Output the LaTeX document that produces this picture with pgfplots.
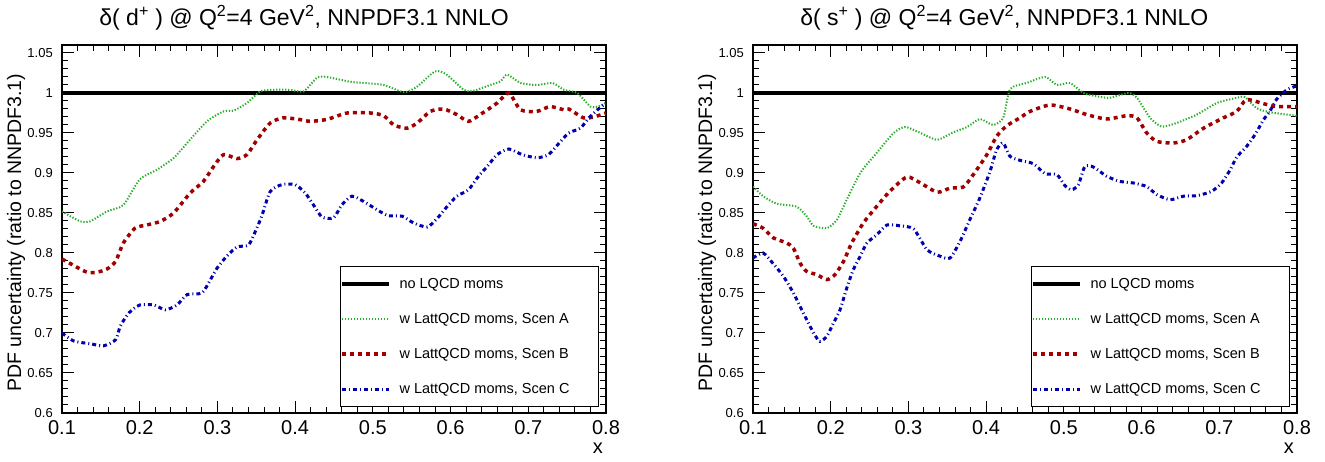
\documentclass[border=0pt]{standalone}
\usepackage{pgfplots}
\pgfplotsset{compat=1.18}
\usepackage{fontspec}
\setmainfont{Liberation Sans}
\definecolor{cgreen}{RGB}{40,175,40}
\definecolor{cred}{RGB}{160,0,0}
\definecolor{cblue}{RGB}{0,0,175}
\pgfplotsset{
  rootstyle/.style={
    width=544pt, height=368pt, scale only axis,
    xmin=0.1, xmax=0.8, ymin=0.6, ymax=1.06,
    xtick={0.1,0.2,0.3,0.4,0.5,0.6,0.7,0.8},
    ytick={0.6,0.65,0.7,0.75,0.8,0.85,0.9,0.95,1,1.05},
    minor x tick num=4, minor y tick num=4,
    tick align=inside,
    major tick length=12pt, minor tick length=6pt,
    axis line style={line width=1.3pt},
    every tick/.style={line width=1pt, black},
    /pgf/number format/assume math mode=true,
    /pgf/number format/fixed,
    /pgf/number format/precision=2,
    xticklabel style={font=\fontsize{20}{20}\selectfont, inner sep=0pt, anchor=north, yshift=-7pt},
    yticklabel style={font=\fontsize{13}{13}\selectfont, inner sep=0pt, anchor=east, xshift=-9pt},
    title style={font=\fontsize{23}{23}\selectfont, anchor=base, inner sep=0pt},
    ylabel={PDF uncertainty (ratio to NNPDF3.1)},
    ylabel style={font=\fontsize{19.5}{19.5}\selectfont, at={(axis description cs:-0.0846,0.49)}, anchor=center, inner sep=0pt},
    xlabel={x},
    xlabel style={font=\fontsize{20}{20}\selectfont, at={(axis description cs:0.985,-0.095)}, anchor=center, inner sep=0pt},
    legend style={at={(0.987,0.0163)}, anchor=south east, draw=black, line width=0.8pt,
      inner xsep=0pt, inner ysep=0pt, row sep=0pt, column sep=0pt,
      font=\fontsize{14.5}{14.5}\selectfont,
      nodes={minimum height=35pt, inner ysep=0pt},
      cells={anchor=west}},
    legend image code/.code={\draw[#1] (16pt,0pt) -- (63pt,0pt);},
  },
  lref/.style={black, line width=3.5pt},
  lA/.style={cgreen, line width=2pt, dash pattern=on 1.3pt off 1.7pt},
  lB/.style={cred, line width=3.5pt, dash pattern=on 4pt off 4pt},
  lC/.style={cblue, line width=3pt, dash pattern=on 4pt off 3pt on 1pt off 3pt},
}
\newcommand{\leg}[1]{\hspace{7pt}\makebox[197pt][l]{#1}}
\begin{document}
\begin{tikzpicture}
\useasboundingbox (0,0) rectangle (1325pt,462pt);
\begin{axis}[rootstyle, at={(62pt,49pt)}, anchor=south west,
  title={δ( d\textsuperscript{+} ) @ Q\textsuperscript{2}=4 GeV\textsuperscript{2}, NNPDF3.1 NNLO},
  title style={at={(axis description cs:0.445,1)}, yshift=13.3pt}]
\addplot[lref] coordinates {(0.1,1) (0.8,1)};
\addlegendentry{\leg{no LQCD moms}}
\addplot[lA, smooth, tension=0.4] coordinates {
(0.100,0.852) (0.1235,0.8395) (0.136,0.8395) (0.158,0.852) (0.179,0.860) (0.200,0.892) (0.222,0.904) (0.244,0.919) (0.265,0.942) (0.287,0.965) (0.308,0.977) (0.321,0.978) (0.338,0.9875) (0.355,1.002) (0.372,1.004) (0.393,1.004) (0.411,1.002) (0.428,1.019) (0.441,1.020) (0.471,1.014) (0.488,1.0125) (0.514,1.010) (0.540,1.001) (0.557,1.008) (0.580,1.027) (0.595,1.023) (0.617,1.004) (0.630,1.003) (0.651,1.010) (0.664,1.0145) (0.673,1.023) (0.690,1.0125) (0.711,1.010) (0.731,1.0125) (0.746,1.004) (0.763,1.000) (0.780,0.983) (0.789,0.983) (0.800,0.9875)};
\addlegendentry{\leg{w LattQCD moms, Scen A}}
\addplot[lB, smooth, tension=0.4] coordinates {
(0.100,0.7925) (0.111,0.7866) (0.132,0.776) (0.145,0.776) (0.158,0.780) (0.169,0.7895) (0.179,0.8125) (0.194,0.831) (0.209,0.835) (0.2265,0.8395) (0.2436,0.850) (0.265,0.875) (0.282,0.8895) (0.295,0.908) (0.308,0.923) (0.325,0.918) (0.338,0.923) (0.351,0.9415) (0.368,0.9625) (0.385,0.969) (0.4067,0.9667) (0.4196,0.9646) (0.441,0.967) (0.467,0.975) (0.497,0.975) (0.514,0.9716) (0.527,0.960) (0.544,0.956) (0.557,0.9625) (0.574,0.977) (0.591,0.980) (0.608,0.973) (0.623,0.9645) (0.638,0.973) (0.660,0.9875) (0.675,1.000) (0.690,0.979) (0.711,0.977) (0.728,0.983) (0.746,0.979) (0.752,0.980) (0.771,0.969) (0.784,0.970) (0.800,0.975)};
\addlegendentry{\leg{w LattQCD moms, Scen B}}
\addplot[lC, smooth, tension=0.4] coordinates {
(0.100,0.700) (0.115,0.690) (0.136,0.6866) (0.1535,0.684) (0.169,0.6916) (0.175,0.7085) (0.186,0.725) (0.200,0.735) (0.218,0.735) (0.233,0.729) (0.248,0.735) (0.261,0.748) (0.280,0.750) (0.291,0.7667) (0.2995,0.781) (0.312,0.796) (0.325,0.8075) (0.340,0.810) (0.3488,0.827) (0.357,0.846) (0.368,0.877) (0.383,0.8854) (0.400,0.8854) (0.413,0.875) (0.424,0.8595) (0.4346,0.845) (0.4495,0.844) (0.460,0.860) (0.473,0.871) (0.488,0.8645) (0.5054,0.854) (0.520,0.8466) (0.5376,0.846) (0.5525,0.8375) (0.570,0.8325) (0.5826,0.843) (0.5955,0.858) (0.608,0.871) (0.623,0.879) (0.636,0.896) (0.647,0.908) (0.660,0.923) (0.675,0.930) (0.692,0.923) (0.711,0.919) (0.726,0.923) (0.739,0.9366) (0.752,0.950) (0.767,0.956) (0.778,0.969) (0.789,0.979) (0.800,0.9875)};
\addlegendentry{\leg{w LattQCD moms, Scen C}}
\end{axis}
\begin{axis}[rootstyle, at={(753pt,49pt)}, anchor=south west,
  title={δ( s\textsuperscript{+} ) @ Q\textsuperscript{2}=4 GeV\textsuperscript{2}, NNPDF3.1 NNLO},
  title style={at={(axis description cs:0.462,1)}, yshift=13.3pt}]
\addplot[lref] coordinates {(0.1,1) (0.8,1)};
\addlegendentry{\leg{no LQCD moms}}
\addplot[lA, smooth, tension=0.4] coordinates {
(0.100,0.883) (0.113,0.871) (0.1305,0.8616) (0.156,0.858) (0.169,0.846) (0.178,0.834) (0.195,0.831) (0.208,0.8416) (0.2206,0.8666) (0.238,0.900) (0.259,0.925) (0.281,0.950) (0.296,0.9575) (0.3155,0.950) (0.337,0.9416) (0.358,0.951) (0.3755,0.9575) (0.392,0.9675) (0.409,0.960) (0.422,0.969) (0.431,1.005) (0.452,1.0125) (0.476,1.020) (0.491,1.010) (0.508,1.0125) (0.525,1.000) (0.542,0.996) (0.559,0.994) (0.583,1.000) (0.594,0.994) (0.611,0.969) (0.626,0.958) (0.645,0.9625) (0.671,0.973) (0.697,0.9875) (0.7225,0.994) (0.733,0.995) (0.748,0.981) (0.765,0.976) (0.787,0.973) (0.800,0.9716)};
\addlegendentry{\leg{w LattQCD moms, Scen A}}
\addplot[lB, smooth, tension=0.4] coordinates {
(0.100,0.8366) (0.113,0.831) (0.126,0.819) (0.1435,0.8125) (0.152,0.806) (0.1605,0.7875) (0.169,0.777) (0.182,0.773) (0.195,0.7667) (0.2055,0.773) (0.2165,0.7895) (0.227,0.8125) (0.242,0.8375) (0.259,0.858) (0.276,0.877) (0.298,0.895) (0.3155,0.8875) (0.337,0.876) (0.3535,0.881) (0.3706,0.8825) (0.3835,0.898) (0.401,0.923) (0.4135,0.9458) (0.4265,0.959) (0.4436,0.969) (0.4565,0.977) (0.482,0.985) (0.508,0.980) (0.5295,0.973) (0.555,0.9675) (0.581,0.9716) (0.594,0.969) (0.6067,0.950) (0.6196,0.9395) (0.641,0.9375) (0.658,0.9416) (0.6797,0.956) (0.7054,0.969) (0.7225,0.977) (0.735,0.9916) (0.757,0.9866) (0.774,0.983) (0.800,0.983)};
\addlegendentry{\leg{w LattQCD moms, Scen B}}
\addplot[lC, smooth, tension=0.4] coordinates {
(0.100,0.7937) (0.113,0.800) (0.126,0.7866) (0.139,0.771) (0.152,0.750) (0.1647,0.725) (0.178,0.700) (0.186,0.6895) (0.195,0.696) (0.2036,0.7125) (0.212,0.729) (0.2206,0.756) (0.229,0.779) (0.238,0.796) (0.2466,0.8125) (0.2595,0.823) (0.2724,0.835) (0.289,0.834) (0.3067,0.830) (0.324,0.804) (0.3407,0.796) (0.3535,0.7937) (0.3664,0.8145) (0.379,0.8416) (0.392,0.869) (0.405,0.902) (0.4135,0.929) (0.422,0.9375) (0.4305,0.921) (0.4436,0.9158) (0.4607,0.9116) (0.476,0.899) (0.491,0.898) (0.5015,0.884) (0.510,0.879) (0.5187,0.8854) (0.527,0.908) (0.538,0.9075) (0.555,0.896) (0.572,0.8895) (0.5895,0.8875) (0.6067,0.883) (0.6196,0.873) (0.6367,0.8666) (0.654,0.871) (0.671,0.8716) (0.690,0.877) (0.703,0.8875) (0.714,0.904) (0.7225,0.920) (0.735,0.933) (0.746,0.948) (0.757,0.9667) (0.765,0.977) (0.774,0.9925) (0.787,1.004) (0.800,1.009)};
\addlegendentry{\leg{w LattQCD moms, Scen C}}
\end{axis}
\end{tikzpicture}
\end{document}
